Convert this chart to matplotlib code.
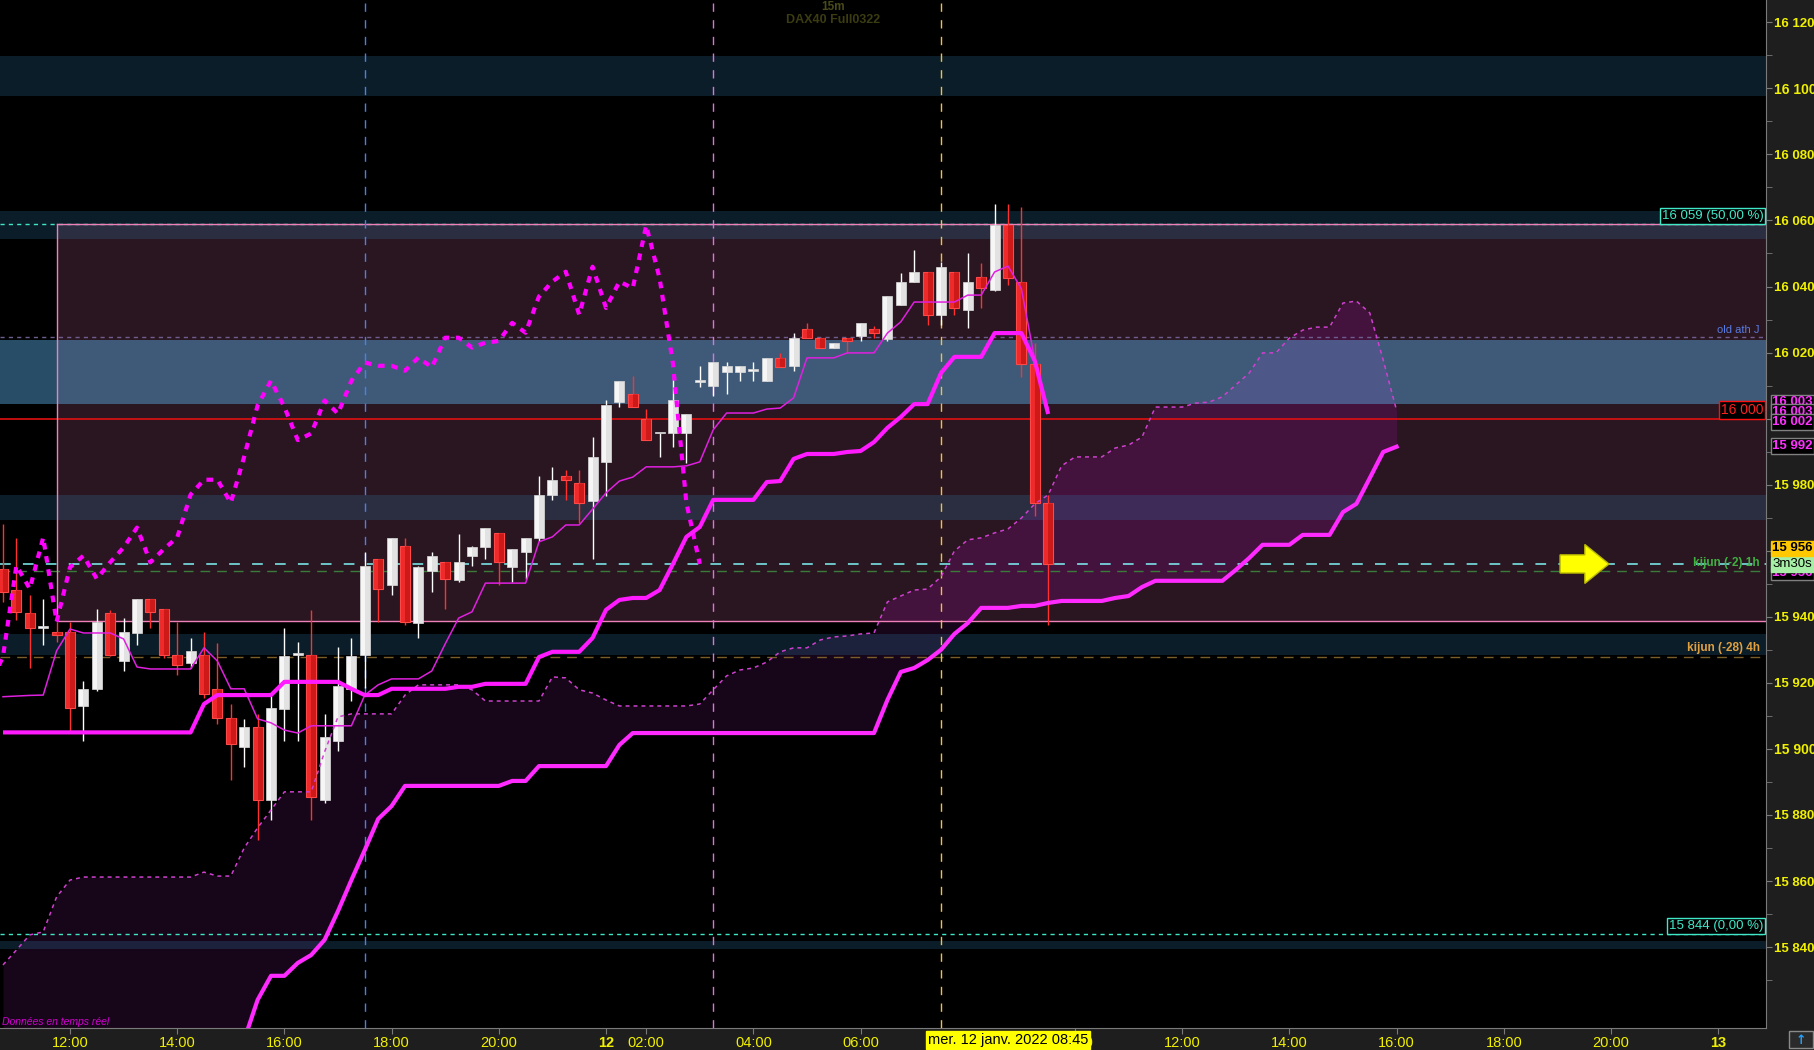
import numpy as np
import matplotlib
matplotlib.use("Agg")
import matplotlib.pyplot as plt
from matplotlib import font_manager, transforms
from matplotlib.patches import Rectangle, FancyArrow


def pick_font(names):
    for n in names:
        try:
            font_manager.findfont(font_manager.FontProperties(family=n), fallback_to_default=False)
            return n
        except Exception:
            pass
    return "DejaVu Sans"


MAIN = pick_font(["Liberation Sans", "DejaVu Sans"])
NARROW = pick_font(["Liberation Sans Narrow", "Liberation Sans"])
plt.rcParams["font.family"] = [MAIN, "DejaVu Sans"]

# ---- data (15m bars, index 0 = 11 Jan 12:00) ----
first_bar = -5
opens = [15954.5, 15948, 15941, 15936.5, 15935.5, 15935.5, 15913, 15918, 15941, 15926.5,
         15935, 15945.5, 15942.5, 15928.5, 15926, 15928.5, 15918, 15909.5, 15900.5, 15906.5,
         15884.5, 15912, 15928.5, 15928.5, 15884.5, 15902.5, 15918, 15928.5, 15957.5, 15949.5,
         15961.5, 15938, 15954, 15956.5, 15951, 15958.5, 15961, 15965.5, 15955, 15959.5,
         15964, 15977, 15982.5, 15980.5, 15975, 15987, 16005, 16007.5, 16000, 15995.5,
         15995.5, 15995.5, 16011, 16010, 16014, 16014, 16014.5, 16011.5, 16018.5, 16016,
         16027, 16024.5, 16021.5, 16024.5, 16025, 16027, 16024, 16034.5, 16041.5, 16044.5,
         16031.5, 16044.5, 16033, 16043, 16039, 16058.5, 16041.5, 16016.5, 15974.5]
highs = [15968, 15964, 15946.5, 15945.5, 15938.5, 15938.5, 15920.5, 15942.5, 15942, 15939.5,
         15945.5, 15945.5, 15942.5, 15938.5, 15933.5, 15935.5, 15932, 15913.5, 15909, 15910.5,
         15916, 15936.5, 15932.5, 15942, 15910.5, 15931, 15933.5, 15959.5, 15957.5, 15964,
         15964, 15955.5, 15959.5, 15956.5, 15965, 15961.5, 15967, 15965.5, 15960.5, 15964,
         15982.5, 15985.5, 15984.5, 15984.5, 15994.5, 16005.5, 16011.5, 16013, 16003, 15995.5,
         16013, 16001.5, 16016, 16017, 16017, 16016, 16017, 16018.5, 16020, 16026,
         16029, 16024.5, 16023, 16024.5, 16029, 16028, 16037, 16044, 16051, 16044.5,
         16047.5, 16044.5, 16050, 16047, 16065, 16065, 16064, 16023, 15977]
lows = [15944.5, 15939, 15924.5, 15931.5, 15932.5, 15905.5, 15902.5, 15917.5, 15928, 15923.5,
        15931.5, 15936.5, 15927.5, 15922.5, 15924.5, 15915.5, 15907.5, 15890.5, 15894.5, 15872.5,
        15878.5, 15902.5, 15902.5, 15878.5, 15883.5, 15899.5, 15914.5, 15918.5, 15938.5, 15946.5,
        15937.5, 15933.5, 15947.5, 15942.5, 15950.5, 15955.5, 15957.5, 15949.5, 15950.5, 15951.5,
        15963, 15975.5, 15975.5, 15968.5, 15957.5, 15976.5, 16003.5, 16003.5, 15993.5, 15988.5,
        15991.5, 15986.5, 16009.5, 16007, 16007.5, 16011.5, 16011.5, 16011.5, 16015.5, 16014.5,
        16024.5, 16021.5, 16021.5, 16020, 16023.5, 16024.5, 16023.5, 16034.5, 16041.5, 16028.5,
        16028.5, 16031.5, 16027.5, 16033.5, 16038.5, 16040.5, 16012.5, 15970.5, 15937.5]
closes = [15947.5, 15941.5, 15936.5, 15936.5, 15934.5, 15912.5, 15918, 15938.5, 15928.5, 15935.5,
          15945.5, 15941.5, 15928.5, 15925.5, 15929.5, 15916.5, 15909.5, 15901.5, 15906.5, 15884.5,
          15912.5, 15928, 15928.5, 15885.5, 15903.5, 15919, 15928, 15955.5, 15948.5, 15964,
          15938.5, 15955, 15958.5, 15951.5, 15956.5, 15961, 15967, 15956.5, 15960.5, 15964,
          15977, 15981.5, 15981.5, 15974.5, 15988.5, 16004, 16011.5, 16003.5, 15993.5, 15995.5,
          16005.5, 16001.5, 16011.5, 16017, 16016, 16016, 16014.5, 16018.5, 16015.5, 16024.5,
          16024.5, 16021.5, 16023, 16023.5, 16029, 16026, 16037, 16041.5, 16044.5, 16031.5,
          16046, 16033.5, 16041.5, 16039.5, 16058.5, 16042.5, 16016.5, 15974.5, 15956]

tenkan = [15915.8, 15916, 15916.2, 15916.3, 15929.7, 15936.3, 15935.1, 15935.1, 15935.1, 15933.3,
          15924.8, 15924.2, 15924.2, 15924.2, 15924.2, 15930.6, 15926.6, 15918.2, 15918.2, 15909.1,
          15907.9, 15905.7, 15904.8, 15907, 15907, 15907, 15907, 15916.3, 15919.4, 15921.2,
          15921.2, 15921.2, 15923.6, 15931.8, 15939.6, 15941.5, 15950.2, 15950.2, 15950.2, 15950.2,
          15962.7, 15964.2, 15967.8, 15967.8, 15972.6, 15977.5, 15981.1, 15982.3, 15985.4, 15985.4,
          15985.4, 15985.7, 15986.9, 15996.6, 16001.7, 16001.7, 16001.7, 16002.9, 16003.2, 16006.3,
          16018.4, 16018.4, 16018.4, 16019.9, 16019.9, 16019.9, 16025.9, 16029.3, 16035.3, 16035.3,
          16035.3, 16035.3, 16037.4, 16037.4, 16044.4, 16046.2, 16039.3, 16017.8, 16003]
kijun = [15905, 15905, 15905, 15905, 15905, 15905, 15905, 15905, 15905, 15905,
         15905, 15905, 15905, 15905, 15905, 15913.6, 15916.3, 15916.3, 15916.3, 15916.3,
         15916.3, 15920.3, 15920.3, 15920.3, 15920.3, 15920.3, 15918.2, 15916.3, 15916.3, 15918.2,
         15918.2, 15918.2, 15918.2, 15918.2, 15918.8, 15918.8, 15919.7, 15919.7, 15919.7, 15919.7,
         15927.8, 15929.4, 15929.4, 15929.4, 15933.6, 15942.1, 15945.1, 15945.7, 15945.7, 15948.1,
         15956, 15964.2, 15967.2, 15975.4, 15975.4, 15975.4, 15975.4, 15980.8, 15981.1, 15987.8,
         15989.3, 15989.3, 15989.3, 15989.9, 15990.2, 15992.9, 15997.2, 16000.5, 16004.4, 16004.4,
         16013.8, 16018.7, 16018.7, 16018.7, 16025.9, 16025.9, 16025.9, 16017.5, 16001.4]

# cloud, projected 26 bars ahead (index -5 .. 99)
senkou_a = [15834.6, 15839.1, 15843.7, 15844.6, 15855.2, 15860.3, 15861.2, 15861.2, 15861.2, 15861.2,
            15861.2, 15861.2, 15861.2, 15861.2, 15861.2, 15862.7, 15861.5, 15861.5, 15870, 15876.1,
            15881.5, 15887, 15887, 15887, 15899.1, 15909.7, 15910.6, 15910.6, 15910.6, 15910.6,
            15916.3, 15919.4, 15919.4, 15919.4, 15919.4, 15917.9, 15914.5, 15914.5, 15914.5, 15914.5,
            15914.5, 15921.8, 15921.5, 15917.9, 15916.9, 15914.8, 15913, 15913, 15913, 15913,
            15913, 15913, 15913.6, 15917.9, 15922.1, 15923.9, 15924.5, 15926.3, 15929.4, 15930.6,
            15930.6, 15933, 15933.9, 15934.2, 15934.8, 15935.1, 15944.5, 15946.3, 15948.1, 15948.4,
            15952.1, 15959.9, 15963.3, 15963.9, 15965.4, 15966.6, 15969.9, 15974.2, 15976.9, 15985.7,
            15988.4, 15988.4, 15988.4, 15991.1, 15992, 15994.4, 16003.5, 16003.5, 16003.5, 16004.7,
            16005, 16006.6, 16010.2, 16013.8, 16019.9, 16019.9, 16024.4, 16026.8, 16027.7, 16027.7,
            16035, 16035.6, 16032, 16017.8, 16002.5]
senkou_b = [15800, 15800, 15800, 15800, 15800, 15800, 15800, 15800, 15800, 15800,
            15800, 15800, 15800, 15800, 15800, 15800, 15800, 15800, 15811.9, 15824,
            15831.3, 15831.3, 15835.2, 15837.6, 15842.2, 15850.9, 15860.3, 15869.4, 15878.8, 15882.7,
            15888.8, 15888.8, 15888.8, 15888.8, 15888.8, 15888.8, 15888.8, 15888.8, 15890.3, 15890.3,
            15894.8, 15894.8, 15894.8, 15894.8, 15894.8, 15894.8, 15901.2, 15904.8, 15904.8, 15904.8,
            15904.8, 15904.8, 15904.8, 15904.8, 15904.8, 15904.8, 15904.8, 15904.8, 15904.8, 15904.8,
            15904.8, 15904.8, 15904.8, 15904.8, 15904.8, 15904.8, 15914.8, 15923.3, 15924.5, 15926.9,
            15930, 15934.8, 15938.1, 15942.7, 15942.7, 15942.7, 15943.3, 15943.3, 15944.2, 15944.8,
            15944.8, 15944.8, 15944.8, 15945.7, 15946.3, 15949, 15950.9, 15950.9, 15950.9, 15950.9,
            15950.9, 15950.9, 15954.2, 15957.8, 15961.8, 15961.8, 15961.8, 15964.8, 15964.8, 15964.8,
            15971.7, 15974.2, 15982, 15989.9, 15991.5]
chikou_shift = 26

# levels / zones
fib_levels = [16059, 15844]
fib_labels = ["16 059 (50,00 %)", "15 844 (0,00 %)"]
round_level = 16000
old_ath = 16024.6
kijun_1h = 15953.8
kijun_4h = 15927.7
box_top, box_bottom, box_left = 16059, 15938.6, -1
teal_zones = [(16097.7, 16109.8), (16054.4, 16062.9), (15969.3, 15976.9),
              (15928.4, 15934.8), (15839.4, 15841.9)]
blue_zone = (16004.4, 16023.8)
session_marks = [(22, "#4a7ee8"), (48, "#e070e0"), (65, "#f0c040")]

# 08:00 sits under the cursor date tag, so it is not listed
tick_pos = [0, 8, 16, 24, 32, 40, 43, 51, 59, 75, 83, 91, 99, 107, 115, 123]
tick_txt = ["12:00", "14:00", "16:00", "18:00", "20:00", "12", "02:00", "04:00", "06:00",
            "10:00", "12:00", "14:00", "16:00", "18:00", "20:00", "13"]
cursor_bar = 70
cursor_txt = "mer. 12 janv. 2022 08:45"

ichi_tags = [(16004.9, "16 003"), (16002.0, "16 003"), (15999.0, "16 002"), (15991.7, "15 992")]

# ---- figure ----
W, H = 1815, 1050
fig = plt.figure(figsize=(W / 100, H / 100), dpi=100, facecolor="#1e1e1e")
ax = fig.add_axes([0, 22 / H, 1766 / W, 1028 / H])
ax.set_facecolor("black")
ax.set_xlim(-5.224, 126.57)
ax.set_ylim(15815.5, 16126.75)

idx = np.arange(first_bar, first_bar + len(opens))
fut = np.arange(first_bar, first_bar + len(senkou_a))
o = np.array(opens); h = np.array(highs); l = np.array(lows); c = np.array(closes)

# cloud (dark outside the box, brighter inside it)
ax.fill_between(fut, senkou_a, senkou_b, color="#170619", lw=0, zorder=1)
box = Rectangle((box_left, box_bottom), 200, box_top - box_bottom, fc="#2a1620", ec="none", zorder=2)
ax.add_patch(box)
bright = ax.fill_between(fut, senkou_a, senkou_b, color="#43123d", lw=0, zorder=2.5)
bright.set_clip_path(box)

# zones
for lo, hi in teal_zones:
    ax.axhspan(lo, hi, color="#3080b0", alpha=0.23, lw=0, zorder=3)
ax.axhspan(*blue_zone, color="#5aaee6", alpha=0.45, lw=0, zorder=3)

# horizontal levels
for lv in fib_levels:
    ax.axhline(lv, color="#3ee6c4", lw=1, ls=(0, (3, 3)), zorder=4)
ax.axhline(round_level, color="#e01010", lw=1.2, zorder=4)
ax.axhline(old_ath, color="#6e5e90", lw=1, ls=(0, (3, 3)), zorder=4)
ax.axhline(kijun_1h, color="#3a7a3a", lw=1, ls=(0, (7, 5)), zorder=4)
ax.axhline(c[-1], color="#7ff5f5", lw=1.1, ls=(0, (7, 8)), zorder=4)
ax.axhline(kijun_4h, color="#7a5e2a", lw=1, ls=(0, (7, 5)), zorder=4)

# box outline
ax.plot([box_left, 200], [box_top, box_top], color="#f080b8", lw=1, zorder=4.2)
ax.plot([box_left, 200], [box_bottom, box_bottom], color="#f080b8", lw=1, zorder=4.2)
ax.plot([box_left, box_left], [box_bottom, box_top], color="#f080b8", lw=1, zorder=4.2)

for xv, col in session_marks:
    ax.axvline(xv, color=col, lw=1, ls=(0, (6, 6)), zorder=4.3)

# candles
up = c >= o
lo_b = np.minimum(o, c)
hb = np.maximum(np.abs(c - o), 0.6)
ax.vlines(idx[up], l[up], h[up], color="white", lw=1, zorder=5)
ax.vlines(idx[~up], l[~up], h[~up], color="#ff3030", lw=1, zorder=5)
ax.bar(idx[up], hb[up], bottom=lo_b[up], width=0.75, color="#f6f6f6",
       edgecolor="#dadada", lw=0.5, zorder=5.5)
ax.bar(idx[up] + 0.19, hb[up], bottom=lo_b[up], width=0.37, color="#bdbdbd",
       alpha=0.35, lw=0, zorder=5.6)
ax.bar(idx[~up], hb[~up], bottom=lo_b[~up], width=0.75, color="#ee2a2a",
       edgecolor="#ff4848", lw=0.8, zorder=5.5)
ax.bar(idx[~up] + 0.19, hb[~up], bottom=lo_b[~up], width=0.37, color="#a00000",
       alpha=0.4, lw=0, zorder=5.6)

# ichimoku lines
ax.plot(idx, tenkan, color="#e020e0", lw=1.1, zorder=6)
ax.plot(fut, senkou_a, color="#d040d0", lw=1.1, ls=(0, (2.6, 2.6)), zorder=6)
ax.plot(idx - chikou_shift, closes, color="#ff00ff", lw=3, ls=(0, (1.6, 1.6)), zorder=6.1)
ax.plot(idx, kijun, color="#ff1aff", lw=3, zorder=6.2, solid_capstyle="butt")
ax.plot(fut, senkou_b, color="#ff2aff", lw=3, zorder=6.2)

# arrow pointing at the last price
ax.add_patch(FancyArrow(111.2, c[-1], 3.65, 0, width=5.5, head_width=11.8, head_length=1.8,
                        length_includes_head=True, fc="#ffff00", ec="#b8b800", lw=1, zorder=7))

# in-chart labels
bt = transforms.blended_transform_factory(ax.transAxes, ax.transData)
for lv, txt in zip(fib_levels, fib_labels):
    ax.text(0.9985, lv + 0.6, txt, transform=bt, ha="right", va="bottom", color="#40e8c8",
            fontsize=9.5, zorder=8,
            bbox=dict(boxstyle="square,pad=0.15", fc="black", ec="#40e8c8", lw=1))
ax.text(0.9985, round_level + 0.6, "16 000", transform=bt, ha="right", va="bottom",
        color="#ff2020", fontsize=10, zorder=8,
        bbox=dict(boxstyle="square,pad=0.15", fc="black", ec="#ff1010", lw=1))
ax.text(0.9966, old_ath + 0.8, "old ath J", transform=bt, ha="right", va="bottom",
        color="#5a7ae0", fontsize=8, zorder=8)
ax.text(0.9966, 15956.3, "kijun (-2) 1h", transform=bt, ha="right", va="center",
        color="#40b040", fontsize=8.5, fontweight="bold", zorder=8)
ax.text(0.9966, kijun_4h + 0.9, "kijun (-28) 4h", transform=bt, ha="right", va="bottom",
        color="#e0a040", fontsize=8.5, fontweight="bold", zorder=8)

ax.text(0.4717, 0.9932, "15m", transform=ax.transAxes, ha="center", va="center",
        color="#4a4a1c", fontsize=8.5, fontweight="bold")
ax.text(0.4717, 0.9805, "DAX40 Full0322", transform=ax.transAxes, ha="center", va="center",
        color="#3c3c12", fontsize=9, fontweight="bold")
ax.text(0.001, 0.006, "Données en temps réel", transform=ax.transAxes, ha="left", va="center",
        color="#d000d0", fontsize=7.5, style="italic")

# axes styling
for s in ["left", "top"]:
    ax.spines[s].set_visible(False)
for s in ["right", "bottom"]:
    ax.spines[s].set_color("#7a7a7a")
ax.yaxis.tick_right()
ax.set_yticks(np.arange(15840, 16121, 20))
ax.set_yticks(np.arange(15830, 16121, 20), minor=True)
ax.set_yticklabels([f"{int(v):,}".replace(",", " ") for v in np.arange(15840, 16121, 20)])
ax.tick_params(axis="y", which="both", direction="out", length=4, color="#7a7a7a",
               labelcolor="#f0f000", pad=2)
for t, v in zip(ax.get_yticklabels(), np.arange(15840, 16121, 20)):
    t.set_fontweight("bold")
    t.set_fontsize(10 if v % 100 == 0 else 9.5)

ax.set_xticks(tick_pos)
ax.set_xticklabels(tick_txt)
ax.tick_params(axis="x", direction="out", length=4, color="#7a7a7a", labelcolor="#f0f000", pad=1.5)
for t, s in zip(ax.get_xticklabels(), tick_txt):
    t.set_family([NARROW, "DejaVu Sans"])
    t.set_fontsize(10.5)
    if ":" not in s:
        t.set_fontweight("bold")

# right-axis tags
for yv, txt in ichi_tags:
    ax.text(1.0035, yv, txt, transform=bt, ha="left", va="center", color="#ff30ff",
            fontsize=9.5, fontweight="bold", clip_on=False, zorder=9,
            bbox=dict(boxstyle="square,pad=0.12", fc="black", ec="#808080", lw=1))
ax.text(1.0035, 15953.4, "15 956", transform=bt, ha="left", va="center", color="#ff30ff",
        fontsize=9.5, fontweight="bold", clip_on=False, zorder=9,
        bbox=dict(boxstyle="square,pad=0.12", fc="black", ec="#808080", lw=1))
ax.text(1.0035, 15955.9, "3m30s", transform=bt, ha="left", va="center", color="black",
        fontsize=9.5, clip_on=False, zorder=9.5,
        bbox=dict(boxstyle="square,pad=0.12", fc="#a6eea6", ec="#a6eea6", lw=1))
ax.text(1.0035, 15960.8, f"{int(c[-1]):,}".replace(",", " "), transform=bt, ha="left",
        va="center", color="black", fontsize=9.5, fontweight="bold", clip_on=False, zorder=9.6,
        bbox=dict(boxstyle="square,pad=0.12", fc="#ffc800", ec="#ffc800", lw=1))

# cursor date tag on the time axis
bx = transforms.blended_transform_factory(ax.transData, ax.transAxes)
ax.text(cursor_bar, -0.0117, cursor_txt, transform=bx, ha="center", va="center", color="black",
        fontsize=10.5, family=[NARROW, "DejaVu Sans"], clip_on=False, zorder=10,
        bbox=dict(boxstyle="square,pad=0.15", fc="#ffff00", ec="#ffff00"))

# corner widget
fig.patches.append(Rectangle((1789 / W, 2 / H), 24 / W, 17 / H, transform=fig.transFigure,
                             fc="#2a2a2a", ec="#8a8a8a", lw=1))
fig.text(1801 / W, 10 / H, "\u2191", color="#20a0ff", fontsize=9, ha="center", va="center",
         family=["DejaVu Sans"], fontweight="bold")

fig.savefig("out.png", dpi=100, facecolor=fig.get_facecolor())
